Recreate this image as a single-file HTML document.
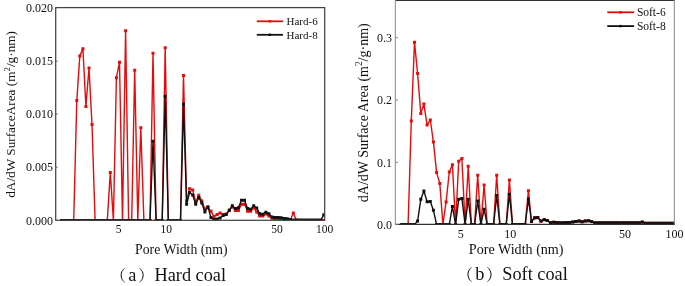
<!DOCTYPE html>
<html><head><meta charset="utf-8"><title>Pore size distribution</title>
<style>html,body{margin:0;padding:0;background:#fff;}body{width:685px;height:286px;overflow:hidden;}svg{display:block;}</style>
</head><body>
<svg width="685" height="286" viewBox="0 0 685 286" font-family="'Liberation Serif','Times New Roman',serif">
<defs><clipPath id="cl"><rect x="55.5" y="7.5" width="269.2" height="213"/></clipPath><clipPath id="cr"><rect x="395.5" y="0.5" width="279" height="224.1"/></clipPath></defs>
<g clip-path="url(#cl)">
<polyline points="61.5,220.4 64.6,220.4 67.6,220.4 70.7,220.4 73.7,220.4 76.8,100.6 79.8,55.9 82.9,48.8 85.9,106.4 89.0,67.9 92.0,124.6 95.1,220.4 98.1,220.4 101.2,220.4 104.2,220.4 107.3,220.4 110.3,172.4 113.4,220.4 116.4,77.7 119.5,62.3 122.5,220.4 125.6,30.7 128.6,220.4 131.7,220.4 134.7,70.3 137.8,220.4 140.8,127.8 143.9,220.4 146.9,220.4 150.0,220.4 153.0,53.3 156.1,220.4 159.1,220.4 162.2,220.4 165.2,47.7 168.3,220.4 171.3,220.4 174.4,220.4 177.4,220.4 180.5,220.4 183.5,75.6 186.6,201.0 189.6,188.7 192.7,190.1 195.7,202.0 198.8,195.3 201.8,200.9 204.9,209.0 207.9,206.9 211.0,211.3 214.0,216.6 217.1,214.4 220.1,213.0 223.2,214.4 226.2,214.0 229.2,210.0 232.3,206.9 235.4,210.6 238.4,210.6 241.5,204.3 244.5,204.3 247.6,211.3 250.6,211.3 253.7,207.8 256.7,212.0 259.8,216.0 262.8,216.0 265.9,214.0 268.9,216.0 272.0,218.3 275.0,218.8 278.1,219.0 281.1,219.2 284.2,219.5 287.2,220.0 290.2,220.2 293.3,213.0 296.4,220.2 299.4,220.4 302.4,220.4 305.5,220.4 308.6,220.4 311.6,220.4 314.7,220.4 317.7,220.4 320.8,220.4 323.8,220.4" fill="none" stroke="#e60a0a" stroke-width="1.4" stroke-linejoin="round"/>
<path d="M60.0 218.9h3.0v3.0h-3.0zM63.1 218.9h3.0v3.0h-3.0zM66.1 218.9h3.0v3.0h-3.0zM69.2 218.9h3.0v3.0h-3.0zM72.2 218.9h3.0v3.0h-3.0zM75.3 99.1h3.0v3.0h-3.0zM78.3 54.4h3.0v3.0h-3.0zM81.4 47.3h3.0v3.0h-3.0zM84.4 104.9h3.0v3.0h-3.0zM87.5 66.4h3.0v3.0h-3.0zM90.5 123.1h3.0v3.0h-3.0zM93.6 218.9h3.0v3.0h-3.0zM96.6 218.9h3.0v3.0h-3.0zM99.7 218.9h3.0v3.0h-3.0zM102.7 218.9h3.0v3.0h-3.0zM105.8 218.9h3.0v3.0h-3.0zM108.8 170.9h3.0v3.0h-3.0zM111.9 218.9h3.0v3.0h-3.0zM114.9 76.2h3.0v3.0h-3.0zM118.0 60.8h3.0v3.0h-3.0zM121.0 218.9h3.0v3.0h-3.0zM124.1 29.2h3.0v3.0h-3.0zM127.1 218.9h3.0v3.0h-3.0zM130.2 218.9h3.0v3.0h-3.0zM133.2 68.8h3.0v3.0h-3.0zM136.3 218.9h3.0v3.0h-3.0zM139.3 126.3h3.0v3.0h-3.0zM142.4 218.9h3.0v3.0h-3.0zM145.4 218.9h3.0v3.0h-3.0zM148.5 218.9h3.0v3.0h-3.0zM151.5 51.8h3.0v3.0h-3.0zM154.6 218.9h3.0v3.0h-3.0zM157.6 218.9h3.0v3.0h-3.0zM160.7 218.9h3.0v3.0h-3.0zM163.7 46.2h3.0v3.0h-3.0zM166.8 218.9h3.0v3.0h-3.0zM169.8 218.9h3.0v3.0h-3.0zM172.9 218.9h3.0v3.0h-3.0zM175.9 218.9h3.0v3.0h-3.0zM179.0 218.9h3.0v3.0h-3.0zM182.0 74.1h3.0v3.0h-3.0zM185.1 199.5h3.0v3.0h-3.0zM188.1 187.2h3.0v3.0h-3.0zM191.2 188.6h3.0v3.0h-3.0zM194.2 200.5h3.0v3.0h-3.0zM197.2 193.8h3.0v3.0h-3.0zM200.3 199.4h3.0v3.0h-3.0zM203.4 207.5h3.0v3.0h-3.0zM206.4 205.4h3.0v3.0h-3.0zM209.5 209.8h3.0v3.0h-3.0zM212.5 215.1h3.0v3.0h-3.0zM215.6 212.9h3.0v3.0h-3.0zM218.6 211.5h3.0v3.0h-3.0zM221.7 212.9h3.0v3.0h-3.0zM224.7 212.5h3.0v3.0h-3.0zM227.8 208.5h3.0v3.0h-3.0zM230.8 205.4h3.0v3.0h-3.0zM233.9 209.1h3.0v3.0h-3.0zM236.9 209.1h3.0v3.0h-3.0zM240.0 202.8h3.0v3.0h-3.0zM243.0 202.8h3.0v3.0h-3.0zM246.1 209.8h3.0v3.0h-3.0zM249.1 209.8h3.0v3.0h-3.0zM252.2 206.3h3.0v3.0h-3.0zM255.2 210.5h3.0v3.0h-3.0zM258.2 214.5h3.0v3.0h-3.0zM261.3 214.5h3.0v3.0h-3.0zM264.4 212.5h3.0v3.0h-3.0zM267.4 214.5h3.0v3.0h-3.0zM270.5 216.8h3.0v3.0h-3.0zM273.5 217.3h3.0v3.0h-3.0zM276.6 217.5h3.0v3.0h-3.0zM279.6 217.7h3.0v3.0h-3.0zM282.7 218.0h3.0v3.0h-3.0zM285.7 218.5h3.0v3.0h-3.0zM288.8 218.7h3.0v3.0h-3.0zM291.8 211.5h3.0v3.0h-3.0zM294.9 218.7h3.0v3.0h-3.0zM297.9 218.9h3.0v3.0h-3.0zM300.9 218.9h3.0v3.0h-3.0zM304.0 218.9h3.0v3.0h-3.0zM307.1 218.9h3.0v3.0h-3.0zM310.1 218.9h3.0v3.0h-3.0zM313.2 218.9h3.0v3.0h-3.0zM316.2 218.9h3.0v3.0h-3.0zM319.2 218.9h3.0v3.0h-3.0zM322.3 218.9h3.0v3.0h-3.0z" fill="#e60a0a"/>

<polyline points="61.5,220.4 64.6,220.4 67.6,220.4 70.7,220.4 73.7,220.4 76.8,220.4 79.8,220.4 82.9,220.4 85.9,220.4 89.0,220.4 92.0,220.4 95.1,220.4 98.1,220.4 101.2,220.4 104.2,220.4 107.3,220.4 110.3,220.4 113.4,220.4 116.4,220.4 119.5,220.4 122.5,220.4 125.6,220.4 128.6,220.4 131.7,220.4 134.7,220.4 137.8,220.4 140.8,220.4 143.9,220.4 146.9,220.4 150.0,220.4 153.0,141.2 156.1,220.4 159.1,220.4 162.2,220.4 165.2,96.2 168.3,220.4 171.3,220.4 174.4,220.4 177.4,220.4 180.5,220.4 183.5,104.2 186.6,204.3 189.6,192.5 192.7,195.0 195.7,204.3 198.8,197.4 201.8,203.0 204.9,212.0 207.9,206.9 211.0,217.6 214.0,219.4 217.1,219.0 220.1,218.0 223.2,215.5 226.2,214.6 229.2,210.6 232.3,205.7 235.4,208.5 238.4,207.8 241.5,200.2 244.5,200.2 247.6,208.5 250.6,209.2 253.7,205.7 256.7,208.1 259.8,213.8 262.8,214.2 265.9,212.2 268.9,213.8 272.0,216.9 275.0,217.5 278.1,217.5 281.1,217.8 284.2,218.5 287.2,218.8 290.2,219.6 293.3,220.0 296.4,220.1 299.4,220.1 302.4,220.1 305.5,220.1 308.6,220.1 311.6,220.1 314.7,220.1 317.7,220.1 320.8,220.1 323.8,214.8" fill="none" stroke="#111111" stroke-width="1.4" stroke-linejoin="round"/>
<path d="M60.0 218.9h3.0v3.0h-3.0zM63.1 218.9h3.0v3.0h-3.0zM66.1 218.9h3.0v3.0h-3.0zM69.2 218.9h3.0v3.0h-3.0zM72.2 218.9h3.0v3.0h-3.0zM75.3 218.9h3.0v3.0h-3.0zM78.3 218.9h3.0v3.0h-3.0zM81.4 218.9h3.0v3.0h-3.0zM84.4 218.9h3.0v3.0h-3.0zM87.5 218.9h3.0v3.0h-3.0zM90.5 218.9h3.0v3.0h-3.0zM93.6 218.9h3.0v3.0h-3.0zM96.6 218.9h3.0v3.0h-3.0zM99.7 218.9h3.0v3.0h-3.0zM102.7 218.9h3.0v3.0h-3.0zM105.8 218.9h3.0v3.0h-3.0zM108.8 218.9h3.0v3.0h-3.0zM111.9 218.9h3.0v3.0h-3.0zM114.9 218.9h3.0v3.0h-3.0zM118.0 218.9h3.0v3.0h-3.0zM121.0 218.9h3.0v3.0h-3.0zM124.1 218.9h3.0v3.0h-3.0zM127.1 218.9h3.0v3.0h-3.0zM130.2 218.9h3.0v3.0h-3.0zM133.2 218.9h3.0v3.0h-3.0zM136.3 218.9h3.0v3.0h-3.0zM139.3 218.9h3.0v3.0h-3.0zM142.4 218.9h3.0v3.0h-3.0zM145.4 218.9h3.0v3.0h-3.0zM148.5 218.9h3.0v3.0h-3.0zM151.5 139.7h3.0v3.0h-3.0zM154.6 218.9h3.0v3.0h-3.0zM157.6 218.9h3.0v3.0h-3.0zM160.7 218.9h3.0v3.0h-3.0zM163.7 94.7h3.0v3.0h-3.0zM166.8 218.9h3.0v3.0h-3.0zM169.8 218.9h3.0v3.0h-3.0zM172.9 218.9h3.0v3.0h-3.0zM175.9 218.9h3.0v3.0h-3.0zM179.0 218.9h3.0v3.0h-3.0zM182.0 102.7h3.0v3.0h-3.0zM185.1 202.8h3.0v3.0h-3.0zM188.1 191.0h3.0v3.0h-3.0zM191.2 193.5h3.0v3.0h-3.0zM194.2 202.8h3.0v3.0h-3.0zM197.2 195.9h3.0v3.0h-3.0zM200.3 201.5h3.0v3.0h-3.0zM203.4 210.5h3.0v3.0h-3.0zM206.4 205.4h3.0v3.0h-3.0zM209.5 216.1h3.0v3.0h-3.0zM212.5 217.9h3.0v3.0h-3.0zM215.6 217.5h3.0v3.0h-3.0zM218.6 216.5h3.0v3.0h-3.0zM221.7 214.0h3.0v3.0h-3.0zM224.7 213.1h3.0v3.0h-3.0zM227.8 209.1h3.0v3.0h-3.0zM230.8 204.2h3.0v3.0h-3.0zM233.9 207.0h3.0v3.0h-3.0zM236.9 206.3h3.0v3.0h-3.0zM240.0 198.7h3.0v3.0h-3.0zM243.0 198.7h3.0v3.0h-3.0zM246.1 207.0h3.0v3.0h-3.0zM249.1 207.7h3.0v3.0h-3.0zM252.2 204.2h3.0v3.0h-3.0zM255.2 206.6h3.0v3.0h-3.0zM258.2 212.3h3.0v3.0h-3.0zM261.3 212.7h3.0v3.0h-3.0zM264.4 210.7h3.0v3.0h-3.0zM267.4 212.3h3.0v3.0h-3.0zM270.5 215.4h3.0v3.0h-3.0zM273.5 216.0h3.0v3.0h-3.0zM276.6 216.0h3.0v3.0h-3.0zM279.6 216.3h3.0v3.0h-3.0zM282.7 217.0h3.0v3.0h-3.0zM285.7 217.3h3.0v3.0h-3.0zM288.8 218.1h3.0v3.0h-3.0zM291.8 218.5h3.0v3.0h-3.0zM294.9 218.6h3.0v3.0h-3.0zM297.9 218.6h3.0v3.0h-3.0zM300.9 218.6h3.0v3.0h-3.0zM304.0 218.6h3.0v3.0h-3.0zM307.1 218.6h3.0v3.0h-3.0zM310.1 218.6h3.0v3.0h-3.0zM313.2 218.6h3.0v3.0h-3.0zM316.2 218.6h3.0v3.0h-3.0zM319.2 218.6h3.0v3.0h-3.0zM322.3 213.3h3.0v3.0h-3.0z" fill="#111111"/>

</g>
<rect x="55.7" y="7.6" width="269" height="212.7" fill="none" stroke="#444" stroke-width="1.25"/>
<line x1="55.7" y1="220.4" x2="57.6" y2="220.4" stroke="#555" stroke-width="0.9"/>
<text x="53" y="224.6" font-size="12" text-anchor="end" fill="#111">0.000</text>
<line x1="55.7" y1="167.2" x2="57.6" y2="167.2" stroke="#555" stroke-width="0.9"/>
<text x="53" y="171.4" font-size="12" text-anchor="end" fill="#111">0.005</text>
<line x1="55.7" y1="114.0" x2="57.6" y2="114.0" stroke="#555" stroke-width="0.9"/>
<text x="53" y="118.2" font-size="12" text-anchor="end" fill="#111">0.010</text>
<line x1="55.7" y1="61.2" x2="57.6" y2="61.2" stroke="#555" stroke-width="0.9"/>
<text x="53" y="65.4" font-size="12" text-anchor="end" fill="#111">0.015</text>
<line x1="55.7" y1="7.6" x2="57.6" y2="7.6" stroke="#555" stroke-width="0.9"/>
<text x="53" y="11.8" font-size="12" text-anchor="end" fill="#111">0.020</text>
<text x="118.6" y="233" font-size="11.5" text-anchor="middle" fill="#111">5</text>
<text x="166.3" y="233" font-size="11.5" text-anchor="middle" fill="#111">10</text>
<text x="277.0" y="233" font-size="11.5" text-anchor="middle" fill="#111">50</text>
<text x="324.7" y="233" font-size="11.5" text-anchor="middle" fill="#111">100</text>
<text x="181.3" y="254" font-size="13.75" text-anchor="middle" fill="#111">Pore Width (nm)</text>
<text transform="translate(15.3,114.4) rotate(-90)" font-size="13.25" text-anchor="middle" fill="#111">dA/dW SurfaceArea (m<tspan font-size="8.8" dy="-5">2</tspan><tspan dy="5">/g·nm)</tspan></text>
<line x1="256.8" y1="21.3" x2="283" y2="21.3" stroke="#e60a0a" stroke-width="1.8"/><rect x="268.6" y="20.1" width="2.4" height="2.4" fill="#e60a0a"/>
<line x1="256.8" y1="34.8" x2="283" y2="34.8" stroke="#111111" stroke-width="1.8"/><rect x="268.6" y="33.6" width="2.4" height="2.4" fill="#111111"/>
<text x="286.5" y="24.8" font-size="11" fill="#111">Hard-6</text>
<text x="286.5" y="38.5" font-size="11" fill="#111">Hard-8</text>
<g clip-path="url(#cr)">
<polyline points="401.8,224.5 405.0,224.5 408.1,224.5 411.3,120.9 414.5,42.3 417.6,73.5 420.8,113.4 423.9,104.1 427.1,125.1 430.3,120.0 433.4,141.9 436.6,172.4 439.8,183.6 442.9,224.5 446.1,201.9 449.3,172.0 452.4,164.8 455.6,224.5 458.7,161.3 461.9,158.6 465.1,224.5 468.2,166.2 471.4,224.5 474.6,224.5 477.7,175.3 480.9,224.5 484.1,185.0 487.2,224.5 490.4,224.5 493.6,224.5 496.7,175.2 499.9,224.5 503.0,224.5 506.2,224.5 509.4,179.9 512.5,224.5 515.7,224.5 518.9,224.5 522.0,224.5 525.2,224.5 528.4,190.7 531.5,221.0 534.7,217.5 537.8,217.8 541.0,221.3 544.2,219.6 547.3,220.4 550.5,222.8 553.7,222.2 556.8,222.5 560.0,222.8 563.2,222.8 566.3,222.5 569.5,222.5 572.7,222.0 575.8,221.4 579.0,221.0 582.1,221.8 585.3,221.0 588.5,220.8 591.6,221.4 594.8,222.8 598.0,222.8 601.1,222.8 604.3,222.8 607.5,222.8 610.6,222.8 613.8,222.8 616.9,222.8 620.1,222.8 623.3,222.8 626.4,222.8 629.6,222.8 632.8,222.8 635.9,222.8 639.1,222.8 642.3,222.3 645.4,223.3 648.6,223.3 651.8,223.3 654.9,223.3 658.1,223.3 661.2,223.3 664.4,223.3 667.6,223.3 670.7,223.3 673.9,223.3" fill="none" stroke="#e60a0a" stroke-width="1.4" stroke-linejoin="round"/>
<path d="M400.3 223.0h3.0v3.0h-3.0zM403.5 223.0h3.0v3.0h-3.0zM406.6 223.0h3.0v3.0h-3.0zM409.8 119.4h3.0v3.0h-3.0zM413.0 40.8h3.0v3.0h-3.0zM416.1 72.0h3.0v3.0h-3.0zM419.3 111.9h3.0v3.0h-3.0zM422.4 102.6h3.0v3.0h-3.0zM425.6 123.6h3.0v3.0h-3.0zM428.8 118.5h3.0v3.0h-3.0zM431.9 140.4h3.0v3.0h-3.0zM435.1 170.9h3.0v3.0h-3.0zM438.3 182.1h3.0v3.0h-3.0zM441.4 223.0h3.0v3.0h-3.0zM444.6 200.4h3.0v3.0h-3.0zM447.8 170.5h3.0v3.0h-3.0zM450.9 163.3h3.0v3.0h-3.0zM454.1 223.0h3.0v3.0h-3.0zM457.2 159.8h3.0v3.0h-3.0zM460.4 157.1h3.0v3.0h-3.0zM463.6 223.0h3.0v3.0h-3.0zM466.7 164.7h3.0v3.0h-3.0zM469.9 223.0h3.0v3.0h-3.0zM473.1 223.0h3.0v3.0h-3.0zM476.2 173.8h3.0v3.0h-3.0zM479.4 223.0h3.0v3.0h-3.0zM482.6 183.5h3.0v3.0h-3.0zM485.7 223.0h3.0v3.0h-3.0zM488.9 223.0h3.0v3.0h-3.0zM492.1 223.0h3.0v3.0h-3.0zM495.2 173.7h3.0v3.0h-3.0zM498.4 223.0h3.0v3.0h-3.0zM501.5 223.0h3.0v3.0h-3.0zM504.7 223.0h3.0v3.0h-3.0zM507.9 178.4h3.0v3.0h-3.0zM511.0 223.0h3.0v3.0h-3.0zM514.2 223.0h3.0v3.0h-3.0zM517.4 223.0h3.0v3.0h-3.0zM520.5 223.0h3.0v3.0h-3.0zM523.7 223.0h3.0v3.0h-3.0zM526.9 189.2h3.0v3.0h-3.0zM530.0 219.5h3.0v3.0h-3.0zM533.2 216.0h3.0v3.0h-3.0zM536.3 216.3h3.0v3.0h-3.0zM539.5 219.8h3.0v3.0h-3.0zM542.7 218.1h3.0v3.0h-3.0zM545.8 218.9h3.0v3.0h-3.0zM549.0 221.3h3.0v3.0h-3.0zM552.2 220.7h3.0v3.0h-3.0zM555.3 221.0h3.0v3.0h-3.0zM558.5 221.3h3.0v3.0h-3.0zM561.7 221.3h3.0v3.0h-3.0zM564.8 221.0h3.0v3.0h-3.0zM568.0 221.0h3.0v3.0h-3.0zM571.2 220.5h3.0v3.0h-3.0zM574.3 219.9h3.0v3.0h-3.0zM577.5 219.5h3.0v3.0h-3.0zM580.6 220.3h3.0v3.0h-3.0zM583.8 219.5h3.0v3.0h-3.0zM587.0 219.3h3.0v3.0h-3.0zM590.1 219.9h3.0v3.0h-3.0zM593.3 221.3h3.0v3.0h-3.0zM596.5 221.3h3.0v3.0h-3.0zM599.6 221.3h3.0v3.0h-3.0zM602.8 221.3h3.0v3.0h-3.0zM606.0 221.3h3.0v3.0h-3.0zM609.1 221.3h3.0v3.0h-3.0zM612.3 221.3h3.0v3.0h-3.0zM615.4 221.3h3.0v3.0h-3.0zM618.6 221.3h3.0v3.0h-3.0zM621.8 221.3h3.0v3.0h-3.0zM624.9 221.3h3.0v3.0h-3.0zM628.1 221.3h3.0v3.0h-3.0zM631.3 221.3h3.0v3.0h-3.0zM634.4 221.3h3.0v3.0h-3.0zM637.6 221.3h3.0v3.0h-3.0zM640.8 220.8h3.0v3.0h-3.0zM643.9 221.8h3.0v3.0h-3.0zM647.1 221.8h3.0v3.0h-3.0zM650.3 221.8h3.0v3.0h-3.0zM653.4 221.8h3.0v3.0h-3.0zM656.6 221.8h3.0v3.0h-3.0zM659.7 221.8h3.0v3.0h-3.0zM662.9 221.8h3.0v3.0h-3.0zM666.1 221.8h3.0v3.0h-3.0zM669.2 221.8h3.0v3.0h-3.0zM672.4 221.8h3.0v3.0h-3.0z" fill="#e60a0a"/>

<polyline points="401.8,224.5 405.0,224.5 408.1,224.5 411.3,224.5 414.5,224.5 417.6,221.1 420.8,199.3 423.9,190.9 427.1,201.8 430.3,201.5 433.4,210.2 436.6,224.5 439.8,224.5 442.9,224.5 446.1,224.5 449.3,224.5 452.4,206.4 455.6,224.5 458.7,199.2 461.9,198.4 465.1,224.5 468.2,199.2 471.4,224.5 474.6,224.5 477.7,201.1 480.9,224.5 484.1,209.2 487.2,224.5 490.4,224.5 493.6,224.5 496.7,195.6 499.9,224.5 503.0,224.5 506.2,224.5 509.4,194.2 512.5,224.5 515.7,224.5 518.9,224.5 522.0,224.5 525.2,224.5 528.4,198.9 531.5,221.5 534.7,218.0 537.8,217.5 541.0,221.0 544.2,219.8 547.3,220.6 550.5,222.8 553.7,222.2 556.8,222.5 560.0,222.8 563.2,222.8 566.3,222.5 569.5,222.5 572.7,222.0 575.8,221.4 579.0,221.0 582.1,221.8 585.3,221.0 588.5,220.8 591.6,221.4 594.8,222.8 598.0,222.8 601.1,222.8 604.3,222.8 607.5,222.8 610.6,222.8 613.8,222.8 616.9,222.8 620.1,222.8 623.3,222.8 626.4,222.8 629.6,222.8 632.8,222.8 635.9,222.8 639.1,222.8 642.3,222.0 645.4,223.3 648.6,223.3 651.8,223.3 654.9,223.3 658.1,223.3 661.2,223.3 664.4,223.3 667.6,223.3 670.7,223.3 673.9,223.3" fill="none" stroke="#111111" stroke-width="1.4" stroke-linejoin="round"/>
<path d="M400.3 223.0h3.0v3.0h-3.0zM403.5 223.0h3.0v3.0h-3.0zM406.6 223.0h3.0v3.0h-3.0zM409.8 223.0h3.0v3.0h-3.0zM413.0 223.0h3.0v3.0h-3.0zM416.1 219.6h3.0v3.0h-3.0zM419.3 197.8h3.0v3.0h-3.0zM422.4 189.4h3.0v3.0h-3.0zM425.6 200.3h3.0v3.0h-3.0zM428.8 200.0h3.0v3.0h-3.0zM431.9 208.7h3.0v3.0h-3.0zM435.1 223.0h3.0v3.0h-3.0zM438.3 223.0h3.0v3.0h-3.0zM441.4 223.0h3.0v3.0h-3.0zM444.6 223.0h3.0v3.0h-3.0zM447.8 223.0h3.0v3.0h-3.0zM450.9 204.9h3.0v3.0h-3.0zM454.1 223.0h3.0v3.0h-3.0zM457.2 197.7h3.0v3.0h-3.0zM460.4 196.9h3.0v3.0h-3.0zM463.6 223.0h3.0v3.0h-3.0zM466.7 197.7h3.0v3.0h-3.0zM469.9 223.0h3.0v3.0h-3.0zM473.1 223.0h3.0v3.0h-3.0zM476.2 199.6h3.0v3.0h-3.0zM479.4 223.0h3.0v3.0h-3.0zM482.6 207.7h3.0v3.0h-3.0zM485.7 223.0h3.0v3.0h-3.0zM488.9 223.0h3.0v3.0h-3.0zM492.1 223.0h3.0v3.0h-3.0zM495.2 194.1h3.0v3.0h-3.0zM498.4 223.0h3.0v3.0h-3.0zM501.5 223.0h3.0v3.0h-3.0zM504.7 223.0h3.0v3.0h-3.0zM507.9 192.7h3.0v3.0h-3.0zM511.0 223.0h3.0v3.0h-3.0zM514.2 223.0h3.0v3.0h-3.0zM517.4 223.0h3.0v3.0h-3.0zM520.5 223.0h3.0v3.0h-3.0zM523.7 223.0h3.0v3.0h-3.0zM526.9 197.4h3.0v3.0h-3.0zM530.0 220.0h3.0v3.0h-3.0zM533.2 216.5h3.0v3.0h-3.0zM536.3 216.0h3.0v3.0h-3.0zM539.5 219.5h3.0v3.0h-3.0zM542.7 218.3h3.0v3.0h-3.0zM545.8 219.1h3.0v3.0h-3.0zM549.0 221.3h3.0v3.0h-3.0zM552.2 220.7h3.0v3.0h-3.0zM555.3 221.0h3.0v3.0h-3.0zM558.5 221.3h3.0v3.0h-3.0zM561.7 221.3h3.0v3.0h-3.0zM564.8 221.0h3.0v3.0h-3.0zM568.0 221.0h3.0v3.0h-3.0zM571.2 220.5h3.0v3.0h-3.0zM574.3 219.9h3.0v3.0h-3.0zM577.5 219.5h3.0v3.0h-3.0zM580.6 220.3h3.0v3.0h-3.0zM583.8 219.5h3.0v3.0h-3.0zM587.0 219.3h3.0v3.0h-3.0zM590.1 219.9h3.0v3.0h-3.0zM593.3 221.3h3.0v3.0h-3.0zM596.5 221.3h3.0v3.0h-3.0zM599.6 221.3h3.0v3.0h-3.0zM602.8 221.3h3.0v3.0h-3.0zM606.0 221.3h3.0v3.0h-3.0zM609.1 221.3h3.0v3.0h-3.0zM612.3 221.3h3.0v3.0h-3.0zM615.4 221.3h3.0v3.0h-3.0zM618.6 221.3h3.0v3.0h-3.0zM621.8 221.3h3.0v3.0h-3.0zM624.9 221.3h3.0v3.0h-3.0zM628.1 221.3h3.0v3.0h-3.0zM631.3 221.3h3.0v3.0h-3.0zM634.4 221.3h3.0v3.0h-3.0zM637.6 221.3h3.0v3.0h-3.0zM640.8 220.5h3.0v3.0h-3.0zM643.9 221.8h3.0v3.0h-3.0zM647.1 221.8h3.0v3.0h-3.0zM650.3 221.8h3.0v3.0h-3.0zM653.4 221.8h3.0v3.0h-3.0zM656.6 221.8h3.0v3.0h-3.0zM659.7 221.8h3.0v3.0h-3.0zM662.9 221.8h3.0v3.0h-3.0zM666.1 221.8h3.0v3.0h-3.0zM669.2 221.8h3.0v3.0h-3.0zM672.4 221.8h3.0v3.0h-3.0z" fill="#111111"/>

</g>
<line x1="395.3" y1="0.5" x2="674.5" y2="0.5" stroke="#333" stroke-width="1.2"/>
<line x1="395.3" y1="0" x2="395.3" y2="224.5" stroke="#888" stroke-width="1"/>
<line x1="674.3" y1="0" x2="674.3" y2="224.5" stroke="#888" stroke-width="1"/>
<line x1="395.3" y1="224.4" x2="674.5" y2="224.4" stroke="#333" stroke-width="1.2"/>
<line x1="395.3" y1="224.6" x2="398" y2="224.6" stroke="#888" stroke-width="1"/>
<text x="392" y="228.8" font-size="12" text-anchor="end" fill="#111">0.0</text>
<line x1="395.3" y1="162.3" x2="398" y2="162.3" stroke="#888" stroke-width="1"/>
<text x="392" y="166.5" font-size="12" text-anchor="end" fill="#111">0.1</text>
<line x1="395.3" y1="100.1" x2="398" y2="100.1" stroke="#888" stroke-width="1"/>
<text x="392" y="104.3" font-size="12" text-anchor="end" fill="#111">0.2</text>
<line x1="395.3" y1="37.7" x2="398" y2="37.7" stroke="#888" stroke-width="1"/>
<text x="392" y="41.9" font-size="12" text-anchor="end" fill="#111">0.3</text>
<text x="460.8" y="237.6" font-size="12" text-anchor="middle" fill="#111">5</text>
<text x="510.3" y="237.6" font-size="12" text-anchor="middle" fill="#111">10</text>
<text x="625.1" y="237.6" font-size="12" text-anchor="middle" fill="#111">50</text>
<text x="674.5" y="237.6" font-size="12" text-anchor="middle" fill="#111">100</text>
<text x="516.2" y="254" font-size="14.1" text-anchor="middle" fill="#111">Pore Width (nm)</text>
<text transform="translate(367.5,112.75) rotate(-90)" font-size="14" text-anchor="middle" fill="#111">dA/dW Surface Area (m<tspan font-size="9.3" dy="-5.3">2</tspan><tspan dy="5.3">/g·nm)</tspan></text>
<line x1="607.3" y1="12.3" x2="634.1" y2="12.3" stroke="#e60a0a" stroke-width="1.8"/><rect x="619.4" y="11.1" width="2.4" height="2.4" fill="#e60a0a"/>
<line x1="607.3" y1="26.1" x2="634.1" y2="26.1" stroke="#111111" stroke-width="1.8"/><rect x="619.4" y="24.9" width="2.4" height="2.4" fill="#111111"/>
<text x="636.9" y="15.7" font-size="11.5" fill="#111">Soft-6</text>
<text x="636.9" y="29.8" font-size="11.5" fill="#111">Soft-8</text>
<text y="280.7" font-size="18.3" fill="#111"><tspan x="110.4" font-size="15.5" font-family="'Liberation Serif','Noto Serif CJK SC',serif">（</tspan><tspan x="128.2">a</tspan><tspan x="138.3" font-size="15.5" font-family="'Liberation Serif','Noto Serif CJK SC',serif">）</tspan><tspan x="154.5">Hard coal</tspan></text>
<text y="280.3" font-size="18.3" fill="#111"><tspan x="456.9" font-size="16" font-family="'Liberation Serif','Noto Serif CJK SC',serif">（</tspan><tspan x="475.2">b</tspan><tspan x="486" font-size="16" font-family="'Liberation Serif','Noto Serif CJK SC',serif">）</tspan><tspan x="502.3">Soft coal</tspan></text>
</svg>
</body></html>
